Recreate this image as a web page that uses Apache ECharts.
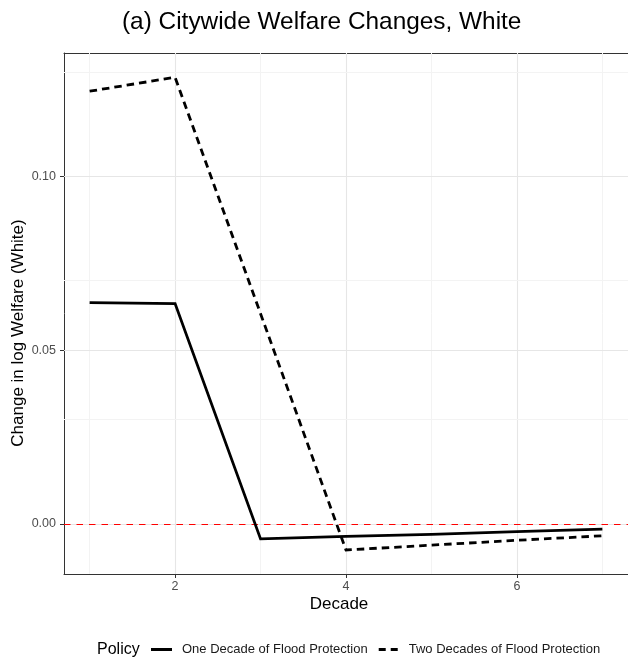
<!DOCTYPE html>
<html>
<head>
<meta charset="utf-8">
<script src="https://cdn.jsdelivr.net/npm/echarts@6/dist/echarts.min.js"></script>
<style>
  html, body { margin: 0; padding: 0; background: #fff; }
  #chart { width: 628px; height: 662px; }
</style>
</head>
<body>
<div id="chart"></div>
<script>
// Decades after the policy starts
const decades = [1, 2, 3, 4, 5, 6, 7];
// Change in log welfare for White residents, by policy
const oneDecade = [0.0637, 0.0634, -0.0043, -0.0036, -0.0030, -0.0022, -0.0015];
const twoDecades = [0.1245, 0.1285, 0.0605, -0.0075, -0.0061, -0.0047, -0.0034];
// Axis tick labels
const xTicks = [2, 4, 6];
const yTicks = [0, 0.05, 0.10];
const xMinor = [1, 3, 5, 7];
const yMinor = [0.025, 0.075, 0.125];
const policyNames = ['One Decade of Flood Protection', 'Two Decades of Flood Protection'];

const FONT = '"Liberation Sans", Arial, sans-serif';
const pair = (xs, ys) => xs.map((x, i) => [x, ys[i]]);
const frameLine = { show: true, onZero: false, lineStyle: { color: '#333333', width: 1 } };

const gridLines = [
  ...xMinor.map(v => ({ xAxis: v, lineStyle: { color: '#f3f3f3', width: 1, type: 'solid' } })),
  ...xTicks.map(v => ({ xAxis: v, lineStyle: { color: '#e6e6e6', width: 1.1, type: 'solid' } })),
  ...yMinor.map(v => ({ yAxis: v, lineStyle: { color: '#f3f3f3', width: 1, type: 'solid' } })),
  ...yTicks.map(v => ({ yAxis: v, lineStyle: { color: '#e6e6e6', width: 1.1, type: 'solid' } }))
];

const chart = echarts.init(document.getElementById('chart'), null, { renderer: 'canvas' });
chart.setOption({
  animation: false,
  backgroundColor: '#fff',
  textStyle: { fontFamily: FONT },
  grid: { left: 64, top: 53, right: -3, bottom: 88, show: false },
  xAxis: [
    {
      type: 'value', min: 0.7, max: 7.3, position: 'bottom',
      axisLine: frameLine,
      splitLine: { show: false },
      axisTick: { show: true, customValues: xTicks, length: 4, lineStyle: { color: '#333', width: 1 } },
      axisLabel: { customValues: xTicks, color: '#4d4d4d', fontSize: 12.5, margin: 6, fontFamily: FONT }
    },
    {
      // top edge of the panel frame
      type: 'value', min: 0.7, max: 7.3, position: 'top',
      axisLine: frameLine, axisTick: { show: false }, axisLabel: { show: false }, splitLine: { show: false }
    }
  ],
  yAxis: {
    type: 'value', min: -0.0144, max: 0.1355, position: 'left',
    axisLine: frameLine,
    splitLine: { show: false },
    axisTick: { show: true, customValues: yTicks, length: 4, lineStyle: { color: '#333', width: 1 } },
    axisLabel: { customValues: yTicks, color: '#4d4d4d', fontSize: 12.5, margin: 8, fontFamily: FONT,
      formatter: v => v.toFixed(2) }
  },
  legend: {
    left: 151, top: 643, padding: 0,
    itemWidth: 21, itemHeight: 3, itemGap: 11,
    textStyle: { fontSize: 13, color: '#1a1a1a', fontFamily: FONT, padding: [0, 0, 0, 5] },
    data: [
      { name: policyNames[0], icon: 'path://M0 0H21V3H0Z', itemStyle: { color: '#000' } },
      { name: policyNames[1], icon: 'path://M0 0H7V3H0Z M12 0H19V3H12Z', itemStyle: { color: '#000' } }
    ]
  },
  graphic: [
    { type: 'text', left: 122, top: 10,
      style: { text: '(a) Citywide Welfare Changes, White', font: '24.4px ' + FONT, fill: '#000' } },
    { type: 'text', x: 339, y: 604,
      style: { text: 'Decade', font: '17px ' + FONT, fill: '#000', align: 'center', verticalAlign: 'middle' } },
    { type: 'text', x: 18, y: 333, rotation: Math.PI / 2,
      style: { text: 'Change in log Welfare (White)', font: '17px ' + FONT, fill: '#000', align: 'center', verticalAlign: 'middle' } },
    { type: 'text', x: 97, y: 650,
      style: { text: 'Policy', font: '16px ' + FONT, fill: '#000', verticalAlign: 'middle' } }
  ],
  series: [
    {
      // background grid drawn through the axis scales
      type: 'line', data: [], z: 1, silent: true,
      markLine: { z: 1, silent: true, symbol: 'none', label: { show: false }, data: gridLines, animation: false }
    },
    {
      // zero reference line
      type: 'line', data: [], z: 2, silent: true,
      markLine: { z: 2, silent: true, symbol: 'none', label: { show: false }, animation: false,
        data: [{ yAxis: 0, lineStyle: { color: '#ff0000', width: 1.2, type: [6.5, 6] } }] }
    },
    {
      name: policyNames[0], type: 'line', z: 3,
      data: pair(decades, oneDecade),
      showSymbol: false, symbol: 'none',
      lineStyle: { color: '#000', width: 2.8, type: 'solid', cap: 'butt', join: 'miter' },
      itemStyle: { color: '#000' }
    },
    {
      name: policyNames[1], type: 'line', z: 3,
      data: pair(decades, twoDecades),
      showSymbol: false, symbol: 'none',
      lineStyle: { color: '#000', width: 2.8, type: [7.5, 5], cap: 'butt', join: 'miter' },
      itemStyle: { color: '#000' }
    }
  ]
});
</script>
</body>
</html>
